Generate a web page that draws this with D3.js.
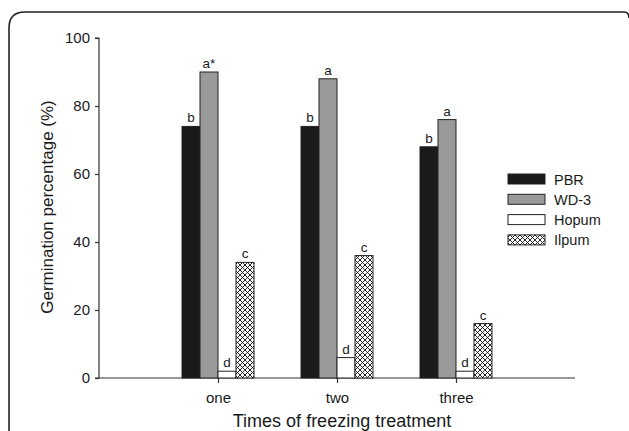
<!DOCTYPE html>
<html>
<head>
<meta charset="utf-8">
<script src="https://cdn.jsdelivr.net/npm/d3@7"></script>
<style>
  html, body { margin: 0; padding: 0; background: #fff; }
  svg { display: block; font-family: "Liberation Sans", Arial, sans-serif; }
</style>
</head>
<body>
<svg id="chart" width="629" height="431"></svg>
<script>
const categories = ["one", "two", "three"];
const seriesNames = ["PBR", "WD-3", "Hopum", "Ilpum"];
const PBR   = [74, 74, 68];
const WD3   = [90, 88, 76];
const Hopum = [2, 6, 2];
const Ilpum = [34, 36, 16];
const sigPBR   = ["b", "b", "b"];
const sigWD3   = ["a*", "a", "a"];
const sigHopum = ["d", "d", "d"];
const sigIlpum = ["c", "c", "c"];
const yTicks = [0, 20, 40, 60, 80, 100];

(function () {
const series = [
  { name: seriesNames[0], values: PBR,   sig: sigPBR,   fill: "#1a1a1a" },
  { name: seriesNames[1], values: WD3,   sig: sigWD3,   fill: "#9a9a9a" },
  { name: seriesNames[2], values: Hopum, sig: sigHopum, fill: "#ffffff" },
  { name: seriesNames[3], values: Ilpum, sig: sigIlpum, fill: "url(#hatch)" }
];

const svg = d3.select("#chart");
const defs = svg.append("defs");
const pat = defs.append("pattern").attr("id", "hatch")
  .attr("patternUnits", "userSpaceOnUse").attr("width", 5).attr("height", 5);
pat.append("rect").attr("width", 5).attr("height", 5).attr("fill", "#fff");
pat.append("path").attr("d", "M0,0L5,5M5,0L0,5M-1,4L1,6M4,-1L6,1M-1,1L1,-1M4,6L6,4")
  .attr("stroke", "#111").attr("stroke-width", 0.9);

// frame
svg.append("path")
  .attr("d", "M9,440 L9,28 Q9,12 25,12 L624,12 Q629,12 629,18")
  .attr("fill", "none").attr("stroke", "#222").attr("stroke-width", 1.6);

const pLeft = 99, pRight = 575, pTop = 38, pBottom = 378;
const x = d3.scaleLinear().domain([0, categories.length + 1]).range([pLeft, pRight]);
const y = d3.scaleLinear().domain([0, 100]).range([pBottom, pTop]);
const barW = 18;

// y axis
const yAxis = svg.append("g").attr("transform", `translate(${pLeft},0)`)
  .call(d3.axisLeft(y).tickValues(yTicks).tickSize(4).tickPadding(5).tickFormat(d3.format("d")));
yAxis.select(".domain").attr("stroke", "#333").attr("stroke-width", 1.2).attr("d", `M-4,${y(100)}H0V${y(0)}H-4`);
yAxis.selectAll(".tick line").attr("stroke", "#333").attr("stroke-width", 1.2);
yAxis.selectAll(".tick text").attr("font-size", 15).attr("fill", "#1a1a1a")
  .attr("font-family", "Liberation Sans, Arial, sans-serif");

// x axis
const xAxis = svg.append("g").attr("transform", `translate(0,${pBottom})`)
  .call(d3.axisBottom(x).tickValues(categories.map((c, i) => i + 1))
    .tickFormat((d) => categories[d - 1]).tickSize(5).tickPadding(9));
xAxis.select(".domain").attr("stroke", "#333").attr("stroke-width", 1.2).attr("d", `M${pLeft},0H${pRight}`);
xAxis.selectAll(".tick line").attr("stroke", "#333").attr("stroke-width", 1.2);
xAxis.selectAll(".tick text").attr("font-size", 15).attr("fill", "#1a1a1a")
  .attr("font-family", "Liberation Sans, Arial, sans-serif");

// bars
series.forEach((s, si) => {
  const g = svg.append("g");
  s.values.forEach((v, ci) => {
    const x0 = x(ci + 1) - 2 * barW + si * barW;
    g.append("rect")
      .attr("x", x0).attr("y", y(v))
      .attr("width", barW).attr("height", y(0) - y(v))
      .attr("fill", s.fill).attr("stroke", "#222").attr("stroke-width", 1);
    svg.append("text")
      .attr("x", x0 + barW / 2).attr("y", y(v) - 4)
      .attr("text-anchor", "middle").attr("font-size", 13.5).attr("fill", "#1a1a1a")
      .text(s.sig[ci]);
  });
});

// axis titles
svg.append("text")
  .attr("transform", "translate(53,207) rotate(-90)")
  .attr("text-anchor", "middle").attr("font-size", 17).attr("fill", "#1a1a1a")
  .text("Germination percentage (%)");
svg.append("text")
  .attr("x", 342).attr("y", 427)
  .attr("text-anchor", "middle").attr("font-size", 18).attr("fill", "#1a1a1a")
  .text("Times of freezing treatment");

// legend
const lg = svg.append("g");
series.forEach((s, i) => {
  const yy = 174 + i * 20.3;
  lg.append("rect").attr("x", 508).attr("y", yy).attr("width", 37).attr("height", 10)
    .attr("fill", s.fill).attr("stroke", "#222").attr("stroke-width", 1);
  lg.append("text").attr("x", 554).attr("y", yy + 10.5)
    .attr("font-size", 14.5).attr("fill", "#1a1a1a").text(s.name);
});
})();
</script>
</body>
</html>
